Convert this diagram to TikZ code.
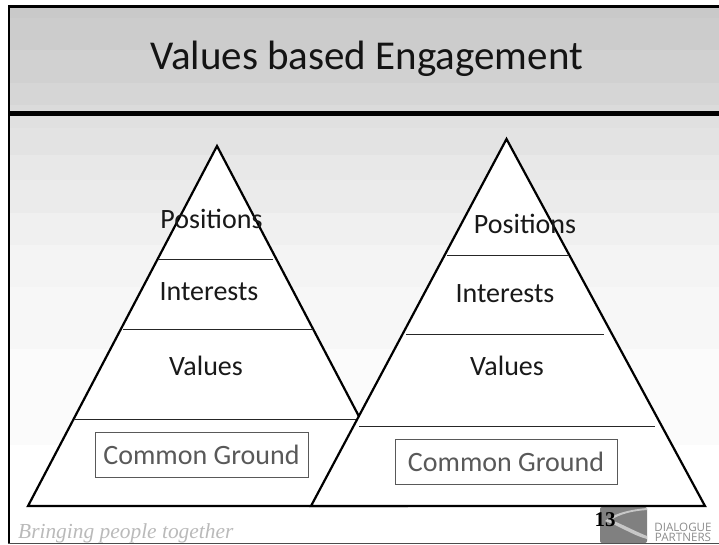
\documentclass[tikz,border=0pt]{standalone}
\usepackage{fontspec}
\setmainfont{Carlito}
\newfontfamily\serifface{Liberation Serif}
\newfontfamily\logoface{Open Sans}
\tikzset{
  x=1pt,y=-1pt,
  pyramid/.style={draw=black,fill=white,line width=2.2pt,line join=miter},
  tier/.style={draw=black!85,line width=1pt},
  frameline/.style={fill=black,draw=none},
  tierlabel/.style={inner sep=0pt,font=\fontsize{28}{32}\selectfont,text=black!90},
  groundbox/.style={draw=black!65,fill=white,line width=1pt,inner sep=0pt,font=\fontsize{28}{32}\selectfont,text=black!65},
  logotext/.style={inner sep=0pt,text height=8pt,text depth=0pt,font=\logoface\fontsize{11.6}{12}\selectfont,text=black!45},
}
\begin{document}
\begin{tikzpicture}
\useasboundingbox (0,0) rectangle (719,544);
\fill[white] (0,0) rectangle (719,544);
% background bands
\foreach \a/\b/\c in {7/18/79,18/50/80,50/83/82,83/105/84,105/111/86,
  115/128/88,128/155/89,155/180/91,180/213/92,213/245/94,245/287/95.5,287/349/97,349/445/98.5}{
  \fill[fill=white!\c!black] (10,\a) rectangle (719,\b);
}
% frame
\fill[frameline] (8,5) rectangle (719,7.5);
\fill[frameline] (8,5) rectangle (10,543.5);
\fill[frameline] (8,111) rectangle (719,115.5);
\fill[black!70] (8,542.6) rectangle (719,543.6);
% title
\node[inner sep=0pt,font=\fontsize{41}{46}\selectfont,text=black!92] (title) at (366.5,59) {Values based Engagement};
% logo
\fill[rounded corners=2pt,fill=black!50] (600,507) rectangle (647,543);
\fill[black!22] (647,508) .. controls (625,510) and (612,515) .. (605,521) .. controls (620,526) and (632,535) .. (647,539) -- (647,536) .. controls (632,530) and (622,524) .. (611,520) .. controls (620,514) and (632,511) .. (647,510) -- cycle;
\node[logotext] (dia) at (683,527.5) {DIALOGUE};
\node[logotext] (par) at (683,537.5) {PARTNERS};
\node[inner sep=0pt,font=\serifface\bfseries\fontsize{21}{22}\selectfont,text=black] (num) at (605,520) {13};
\node[inner sep=0pt,anchor=base west,font=\serifface\itshape\fontsize{21.4}{24}\selectfont,text=black!27] (tag) at (18,538) {Bringing people together};
% left pyramid
\coordinate (LA) at (217,146);
\coordinate (LL) at (28,506);
\coordinate (LR) at (406,506);
\draw[pyramid] (LA) -- (LL) -- (LR) -- cycle;
\coordinate (L1a) at (159,259); \coordinate (L1b) at (273,259);
\coordinate (L2a) at (123,329); \coordinate (L2b) at (313,329);
\coordinate (L3a) at (75,419);  \coordinate (L3b) at (358,419);
\draw[tier] (L1a) -- (L1b);
\draw[tier] (L2a) -- (L2b);
\draw[tier] (L3a) -- (L3b);
% right pyramid
\coordinate (RA) at (506.5,139);
\coordinate (RL) at (311,506);
\coordinate (RR) at (705,506);
\draw[pyramid] (RA) -- (RL) -- (RR) -- cycle;
\coordinate (R1a) at (447,255); \coordinate (R1b) at (568,255);
\coordinate (R2a) at (406,334); \coordinate (R2b) at (604,334);
\coordinate (R3a) at (359,426); \coordinate (R3b) at (655,426);
\draw[tier] (R1a) -- (R1b);
\draw[tier] (R2a) -- (R2b);
\draw[tier] (R3a) -- (R3b);
% labels
\node[tierlabel] (lpos) at (211.5,219) {Positions};
\node[tierlabel] (lint) at (209,292) {Interests};
\node[tierlabel] (lval) at (206,366) {Values};
\node[tierlabel] (rpos) at (525,224) {Positions};
\node[tierlabel] (rint) at (505,294) {Interests};
\node[tierlabel] (rval) at (507,366) {Values};
\node[groundbox,minimum width=213pt,minimum height=45pt,anchor=center] (lcg) at (201.5,454.5) {Common Ground};
\node[groundbox,minimum width=222pt,minimum height=45pt,anchor=center] (rcg) at (506,461.5) {Common Ground};
\end{tikzpicture}
\end{document}
